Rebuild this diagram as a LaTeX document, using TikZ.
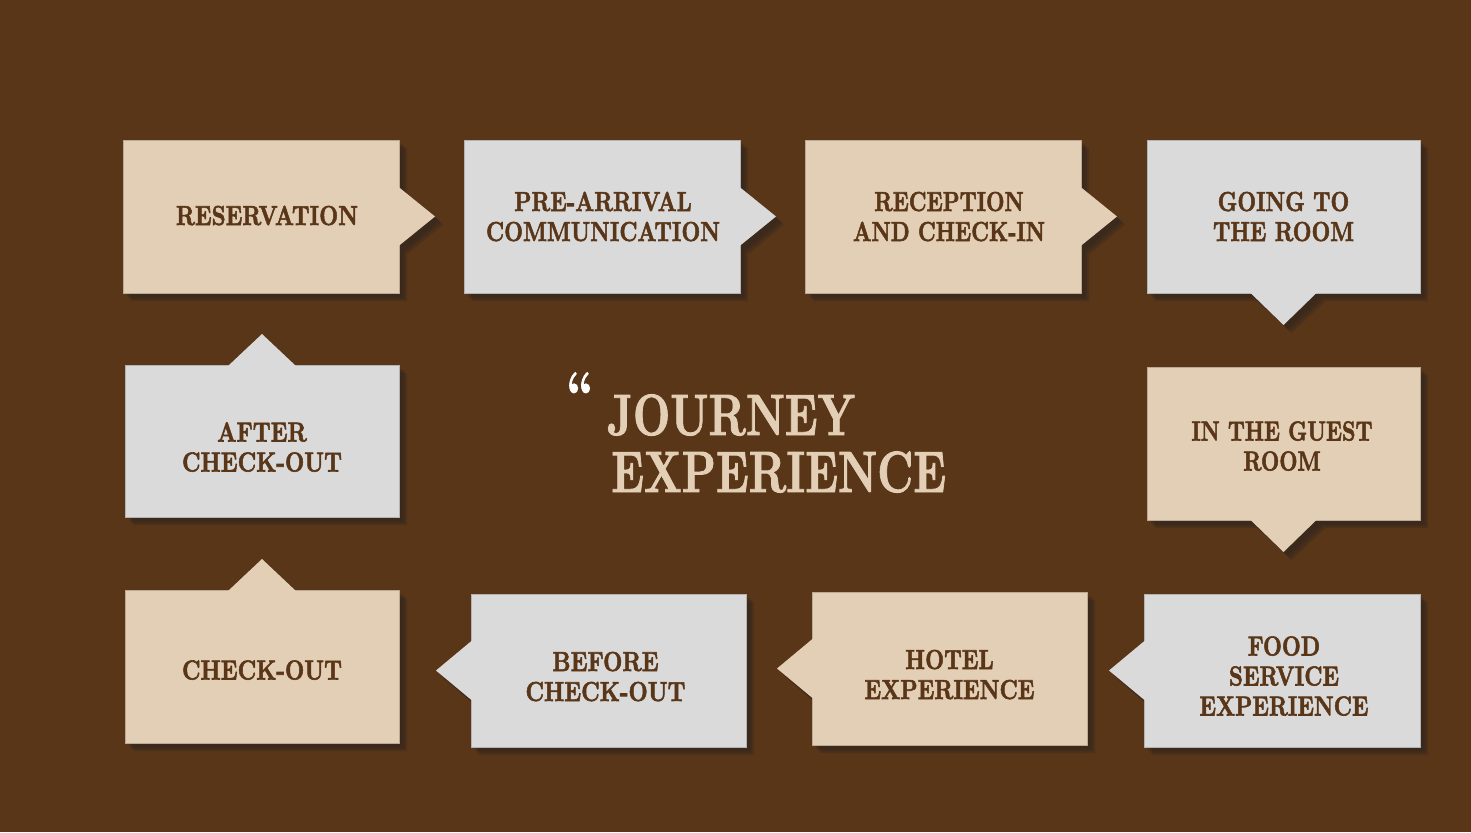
\documentclass[tikz,border=0pt]{standalone}
\usepackage{graphicx}
\usepackage{fontspec}
\newfontfamily\lblfam{lmroman10-bold.otf}[FakeBold=2.2]
\newfontfamily\titlefam{lmroman10-bold.otf}[FakeBold=1.6]
\usetikzlibrary{calc}
\definecolor{bgc}{HTML}{5A3618}
\definecolor{beigec}{HTML}{E3CFB6}
\definecolor{greyc}{HTML}{DADADA}
\definecolor{txtc}{HTML}{5A3618}
\definecolor{shc}{HTML}{30261F}
\pgfdeclarelayer{bglayer}
\pgfdeclarelayer{shadowlayer}
\pgfsetlayers{bglayer,shadowlayer,main}
\newcommand\lblfont{\lblfam\fontsize{27.5}{30}\selectfont}
\newcommand\titlefont{\titlefam\fontsize{58.3}{62}\selectfont}
% #1 x shift (right), #2 y shift (down), #3 width of widest line, #4 text
\newcommand\lbl[4]{\hspace*{#1pt}\raisebox{-#2pt}[\height][\depth]{\resizebox{#3pt}{\height}{\begin{tabular}{@{}c@{}}\rule{0pt}{28pt}#4\end{tabular}}}}
\newcommand\shadowfill[1]{%
  \begin{pgfonlayer}{shadowlayer}
  \foreach \s in {4,6,8}{\begin{scope}[transform canvas={shift={(\s,\s)}}]
    \fill[shc,opacity=0.35] #1;
  \end{scope}}
  \end{pgfonlayer}}
\newcommand\arrR[2]{%
  \shadowfill{(#1.north west) -- (#1.north east) -- ($(#1.east)+(0,-30)$) -- ($(#1.east)+(36,0)$) -- ($(#1.east)+(0,30)$) -- (#1.south east) -- (#1.south west) -- cycle}%
  \fill[#2] ($(#1.east)+(-1,-30)$) -- ($(#1.east)+(36,0)$) -- ($(#1.east)+(-1,30)$) -- cycle;}
\newcommand\arrD[2]{%
  \shadowfill{(#1.north west) -- (#1.north east) -- (#1.south east) -- ($(#1.south)+(34,0)$) -- ($(#1.south)+(0,32)$) -- ($(#1.south)+(-34,0)$) -- (#1.south west) -- cycle}%
  \fill[#2] ($(#1.south)+(-34,-1)$) -- ($(#1.south)+(0,32)$) -- ($(#1.south)+(34,-1)$) -- cycle;}
\newcommand\arrU[2]{%
  \shadowfill{(#1.north west) -- ($(#1.north)+(-34,0)$) -- ($(#1.north)+(0,-31)$) -- ($(#1.north)+(34,0)$) -- (#1.north east) -- (#1.south east) -- (#1.south west) -- cycle}%
  \fill[#2] ($(#1.north)+(-34,1)$) -- ($(#1.north)+(0,-31)$) -- ($(#1.north)+(34,1)$) -- cycle;}
\newcommand\arrL[2]{%
  \shadowfill{(#1.north west) -- (#1.north east) -- (#1.south east) -- (#1.south west) -- ($(#1.west)+(0,30)$) -- ($(#1.west)+(-35,0)$) -- ($(#1.west)+(0,-30)$) -- cycle}%
  \fill[#2] ($(#1.west)+(1,-30)$) -- ($(#1.west)+(-35,0)$) -- ($(#1.west)+(1,30)$) -- cycle;}
\begin{document}
\begin{tikzpicture}[x=1pt,y=-1pt,
  cardbase/.style={line width=0.6pt, inner sep=0pt, outer sep=0pt, text=txtc, font=\lblfont, minimum height=153pt},
  cardb/.style={cardbase, draw=beigec!82!black, fill=beigec},
  cardg/.style={cardbase, draw=greyc!82!black, fill=greyc}]
\useasboundingbox (0,0) rectangle (1471,832);
\begin{pgfonlayer}{bglayer}
  \fill[bgc] (0,0) rectangle (1471,832);
\end{pgfonlayer}

\node[cardb, minimum width=276pt] (res) at (261,216.5) {\lbl{12}{-1}{182}{RESERVATION}};
\arrR{res}{beigec}
\node[cardg, minimum width=276pt] (pre) at (602,216.5) {\lbl{2}{0}{234}{PRE-ARRIVAL\\COMMUNICATION}};
\arrR{pre}{greyc}
\node[cardb, minimum width=276pt] (rec) at (943,216.5) {\lbl{12}{0}{192}{RECEPTION\\AND CHECK-IN}};
\arrR{rec}{beigec}
\node[cardg, minimum width=273pt] (going) at (1283.5,216.5) {\lbl{0}{0}{141}{GOING TO\\THE ROOM}};
\arrD{going}{greyc}
\node[cardb, minimum width=273pt] (guest) at (1283.5,443.5) {\lbl{-3}{2.5}{181}{IN THE GUEST\\ROOM}};
\arrD{guest}{beigec}
\node[cardg, minimum width=276pt] (food) at (1282,670.5) {\lbl{4}{5.5}{169}{FOOD\\SERVICE\\EXPERIENCE}};
\arrL{food}{greyc}
\node[cardb, minimum width=275pt] (hotel) at (949.5,668.5) {\lbl{0}{6}{170}{HOTEL\\EXPERIENCE}};
\arrL{hotel}{beigec}
\node[cardg, minimum width=275pt] (before) at (608.5,670.5) {\lbl{-6}{6}{160}{BEFORE\\CHECK-OUT}};
\arrL{before}{greyc}
\node[cardb, minimum width=274pt] (chk) at (262,666.5) {\lbl{0}{3.5}{160}{CHECK-OUT}};
\arrU{chk}{beigec}
\node[cardg, minimum width=274pt, minimum height=152pt] (after) at (262,441) {\lbl{0}{6}{160}{AFTER\\CHECK-OUT}};
\arrU{after}{greyc}

\node[anchor=base, inner sep=0pt, text=white, font=\titlefont] (quote) at (580,413) {\resizebox{27pt}{\height}{\textquotedblleft}};
\node[anchor=base west, inner sep=0pt, text=beigec, font=\titlefont] (title1) at (607,435) {\resizebox{248pt}{\height}{JOURNEY}};
\node[anchor=base west, inner sep=0pt, text=beigec, font=\titlefont] (title2) at (611,492) {\resizebox{335pt}{\height}{EXPERIENCE}};
\end{tikzpicture}
\end{document}
